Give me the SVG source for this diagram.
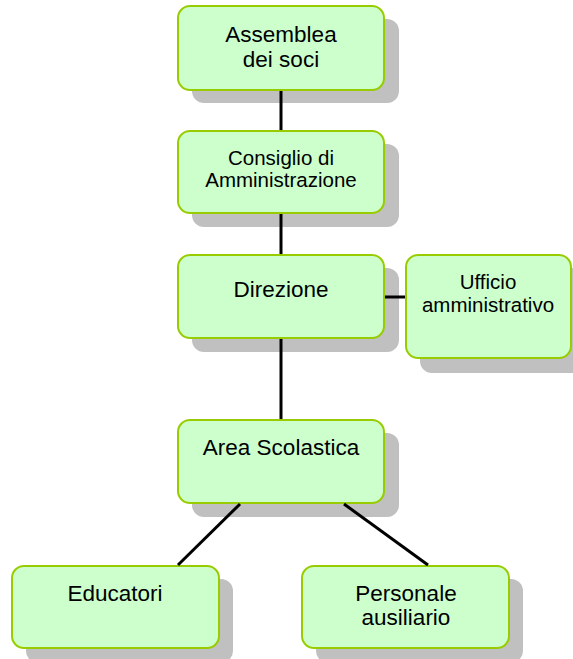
<svg xmlns="http://www.w3.org/2000/svg" width="573" height="659" viewBox="0 0 573 659">
<style>
.sh{fill:#c0c0c0}
.bx{fill:#ccffcc;stroke:#99cc00;stroke-width:2}
.t{font-family:"Liberation Sans",Arial,sans-serif;fill:#000;text-anchor:middle}
.b{font-size:22.5px}
.s{font-size:20.5px}
.l{stroke:#000;stroke-width:3;fill:none}
</style>
<rect width="573" height="659" fill="#fff"/>
<g id="assemblea">
<rect class="sh" x="192" y="19" width="207" height="84" rx="12"/>
<rect class="bx" x="178" y="6" width="206" height="84" rx="12"/>
<text class="t b" x="281" y="42">Assemblea</text>
<text class="t b" x="281" y="67">dei soci</text>
</g>
<g id="consiglio">
<rect class="sh" x="192" y="144" width="207" height="83" rx="12"/>
<rect class="bx" x="178" y="131" width="206" height="82" rx="12"/>
<text class="t s" x="281" y="165">Consiglio di</text>
<text class="t s" x="281" y="187">Amministrazione</text>
</g>
<g id="direzione">
<rect class="sh" x="192" y="268" width="207" height="84" rx="12"/>
<rect class="bx" x="178" y="255" width="206" height="83" rx="12"/>
<text class="t b" x="281" y="297">Direzione</text>
</g>
<g id="ufficio">
<rect class="sh" x="420" y="268" width="165" height="105" rx="12"/>
<rect class="bx" x="406" y="255" width="165" height="103" rx="12"/>
<text class="t s" x="488" y="289">Ufficio</text>
<text class="t s" x="488" y="312">amministrativo</text>
</g>
<g id="area">
<rect class="sh" x="192" y="433" width="207" height="84" rx="12"/>
<rect class="bx" x="178" y="420" width="206" height="83" rx="12"/>
<text class="t b" x="281" y="455">Area Scolastica</text>
</g>
<g id="educatori">
<rect class="sh" x="26" y="579" width="207" height="84" rx="12"/>
<rect class="bx" x="12" y="566" width="207" height="82" rx="12"/>
<text class="t b" x="115" y="601">Educatori</text>
</g>
<g id="personale">
<rect class="sh" x="316" y="579" width="207" height="84" rx="12"/>
<rect class="bx" x="302" y="566" width="207" height="82" rx="12"/>
<text class="t b" x="406" y="601">Personale</text>
<text class="t b" x="406" y="625">ausiliario</text>
</g>
<g id="connectors">
<line class="l" x1="281" y1="91" x2="281" y2="130"/>
<line class="l" x1="281" y1="214" x2="281" y2="254"/>
<line class="l" x1="281" y1="339" x2="281" y2="419"/>
<line class="l" x1="385" y1="297" x2="405" y2="297"/>
<line class="l" x1="240" y1="504" x2="178" y2="565"/>
<line class="l" x1="344" y1="504" x2="428" y2="565"/>
</g>
</svg>
